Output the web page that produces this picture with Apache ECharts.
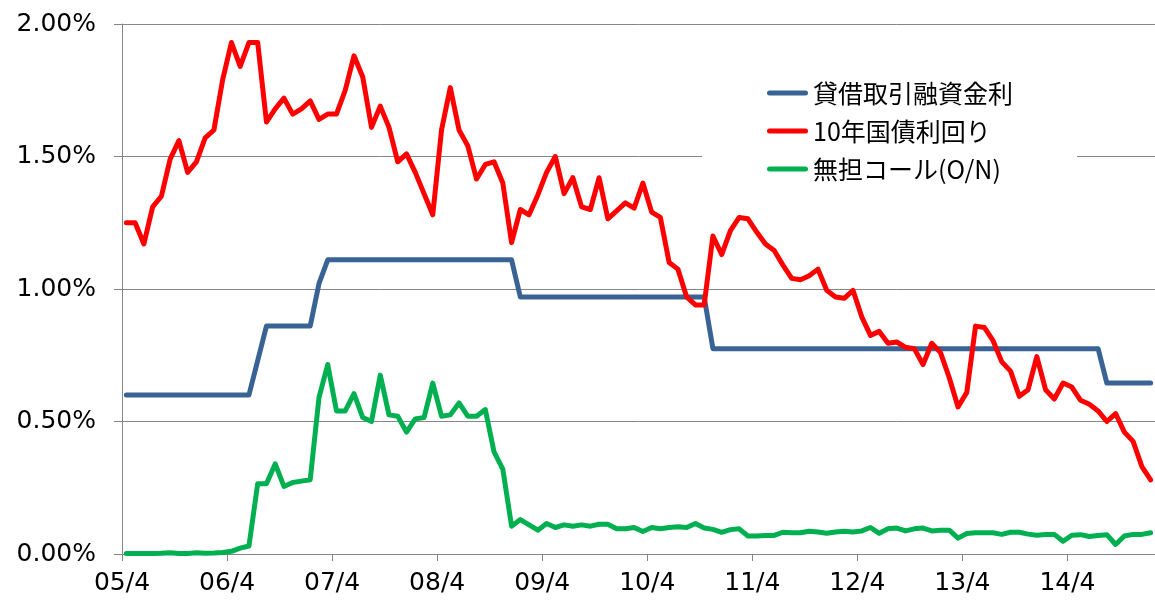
<!DOCTYPE html>
<html>
<head>
<meta charset="utf-8">
<script src="https://cdn.jsdelivr.net/npm/echarts@6/dist/echarts.min.js"></script>
<style>
  html, body { margin: 0; padding: 0; background: #fff; }
  #chart { width: 1155px; height: 603px; }
</style>
</head>
<body>
<div id="chart"></div>
<script>
// Monthly series, starting 2005/04 (one value per month, %)
const startYear = 2005;
const startMonth = 4;

const tickLabels = ['05/4', '06/4', '07/4', '08/4', '09/4', '10/4', '11/4', '12/4', '13/4', '14/4'];

const seriesNames = ['貸借取引融資金利', '10年国債利回り', '無担コール(O/N)'];

// 貸借取引融資金利
const lendingRate = [
  0.60, 0.60, 0.60, 0.60, 0.60, 0.60, 0.60, 0.60, 0.60, 0.60, 0.60, 0.60,
  0.60, 0.60, 0.60, 0.73, 0.86, 0.86, 0.86, 0.86, 0.86, 0.86, 1.02, 1.11,
  1.11, 1.11, 1.11, 1.11, 1.11, 1.11, 1.11, 1.11, 1.11, 1.11, 1.11, 1.11,
  1.11, 1.11, 1.11, 1.11, 1.11, 1.11, 1.11, 1.11, 1.11, 0.97, 0.97, 0.97,
  0.97, 0.97, 0.97, 0.97, 0.97, 0.97, 0.97, 0.97, 0.97, 0.97, 0.97, 0.97,
  0.97, 0.97, 0.97, 0.97, 0.97, 0.97, 0.97, 0.775, 0.775, 0.775, 0.775, 0.775,
  0.775, 0.775, 0.775, 0.775, 0.775, 0.775, 0.775, 0.775, 0.775, 0.775, 0.775, 0.775,
  0.775, 0.775, 0.775, 0.775, 0.775, 0.775, 0.775, 0.775, 0.775, 0.775, 0.775, 0.775,
  0.775, 0.775, 0.775, 0.775, 0.775, 0.775, 0.775, 0.775, 0.775, 0.775, 0.775, 0.775,
  0.775, 0.775, 0.775, 0.775, 0.645, 0.645, 0.645, 0.645, 0.645, 0.645
];

// 10年国債利回り
const jgb10y = [
  1.25, 1.25, 1.17, 1.31, 1.35, 1.49, 1.56, 1.44, 1.48, 1.57, 1.60, 1.79,
  1.93, 1.84, 1.93, 1.93, 1.63, 1.68, 1.72, 1.66, 1.68, 1.71, 1.64, 1.66,
  1.66, 1.75, 1.88, 1.80, 1.61, 1.69, 1.61, 1.48, 1.51, 1.44, 1.36, 1.28,
  1.60, 1.76, 1.60, 1.54, 1.415, 1.47, 1.48, 1.40, 1.175, 1.30, 1.28, 1.355,
  1.44, 1.50, 1.36, 1.42, 1.31, 1.30, 1.42, 1.265, 1.295, 1.325, 1.305, 1.40,
  1.29, 1.27, 1.10, 1.075, 0.97, 0.94, 0.94, 1.20, 1.13, 1.22, 1.27, 1.265,
  1.215, 1.17, 1.145, 1.09, 1.04, 1.035, 1.05, 1.075, 0.995, 0.97, 0.965, 0.995,
  0.895, 0.825, 0.84, 0.795, 0.80, 0.78, 0.775, 0.715, 0.795, 0.76, 0.665, 0.555,
  0.61, 0.86, 0.855, 0.805, 0.725, 0.69, 0.595, 0.62, 0.745, 0.62, 0.585, 0.645,
  0.63, 0.58, 0.565, 0.54, 0.50, 0.53, 0.46, 0.425, 0.33, 0.28
];

// 無担コール(O/N)
const callRate = [
  0.002, 0.002, 0.002, 0.002, 0.003, 0.005, 0.002, 0.002, 0.005, 0.003, 0.004, 0.006,
  0.010, 0.022, 0.030, 0.265, 0.265, 0.34, 0.255, 0.27, 0.275, 0.28, 0.59, 0.715,
  0.54, 0.54, 0.605, 0.515, 0.50, 0.675, 0.525, 0.52, 0.46, 0.51, 0.515, 0.645,
  0.52, 0.525, 0.57, 0.52, 0.52, 0.545, 0.385, 0.32, 0.105, 0.13, 0.11, 0.09,
  0.115, 0.10, 0.11, 0.105, 0.11, 0.105, 0.112, 0.112, 0.095, 0.095, 0.10, 0.085,
  0.10, 0.095, 0.10, 0.103, 0.10, 0.115, 0.098, 0.093, 0.082, 0.092, 0.095, 0.068,
  0.068, 0.07, 0.07, 0.082, 0.08, 0.08, 0.086, 0.083, 0.078, 0.083, 0.086, 0.083,
  0.087, 0.10, 0.078, 0.095, 0.098, 0.087, 0.095, 0.098, 0.087, 0.09, 0.09, 0.06,
  0.077, 0.08, 0.08, 0.08, 0.074, 0.082, 0.082, 0.075, 0.071, 0.074, 0.074, 0.048,
  0.071, 0.073, 0.066, 0.07, 0.073, 0.036, 0.068, 0.074, 0.074, 0.08
];

const seriesColors = ['#3a6395', '#ff0000', '#00b050'];

// Each monthly value is placed at the middle of its month on a month-count axis
function toPoints(values) {
  return values.map((v, i) => [i + 0.5, v]);
}

const monthCount = lendingRate.length; // 118 months, 2005/04 .. 2015/01
const axisFont = 'DejaVu Sans, Verdana, sans-serif';

// Capsule-shaped legend key: a thick line with rounded ends
const legendKey = 'path://M2.5,0 L38.5,0 A2.5,2.5 0 0 1 38.5,5 L2.5,5 A2.5,2.5 0 0 1 2.5,0 Z';

const chart = echarts.init(document.getElementById('chart'), null, { renderer: 'canvas' });

chart.setOption({
  animation: false,
  backgroundColor: '#ffffff',
  grid: { left: 122, top: 24, width: 1036, height: 530, containLabel: false },
  legend: {
    orient: 'vertical',
    left: 702,
    top: 60,
    padding: [19, 64, 16, 65],
    backgroundColor: '#ffffff',
    icon: legendKey,
    itemWidth: 41,
    itemHeight: 5,
    itemGap: 10,
    data: seriesNames,
    textStyle: {
      fontFamily: 'Noto Sans CJK JP, sans-serif',
      fontSize: 25,
      lineHeight: 28,
      color: '#000000'
    }
  },
  xAxis: {
    type: 'value',
    min: 0,
    max: monthCount,
    interval: 12,
    splitLine: { show: false },
    axisLine: { show: true, onZero: false, lineStyle: { color: '#868686', width: 1 } },
    axisTick: { show: true, length: 7, lineStyle: { color: '#868686' } },
    axisLabel: {
      showMaxLabel: false,
      margin: 17,
      fontFamily: axisFont,
      fontSize: 25,
      color: '#000000',
      formatter: function (v) {
        if (v % 12 !== 0) return '';
        return tickLabels[v / 12] || '';
      }
    }
  },
  yAxis: {
    type: 'value',
    min: 0,
    max: 2,
    interval: 0.5,
    splitLine: { show: true, lineStyle: { color: '#868686', width: 1 } },
    axisLine: { show: true, lineStyle: { color: '#868686', width: 1 } },
    axisTick: { show: true, length: 8, lineStyle: { color: '#868686' } },
    axisLabel: {
      margin: 26,
      fontFamily: axisFont,
      fontSize: 25,
      color: '#000000',
      formatter: function (v) { return v.toFixed(2) + '%'; }
    }
  },
  series: [lendingRate, jgb10y, callRate].map((vals, k) => ({
    name: seriesNames[k],
    type: 'line',
    data: toPoints(vals),
    symbol: 'none',
    color: seriesColors[k],
    lineStyle: { width: 5, color: seriesColors[k], cap: 'round', join: 'round' },
    emphasis: { disabled: true }
  }))
});
</script>
</body>
</html>
